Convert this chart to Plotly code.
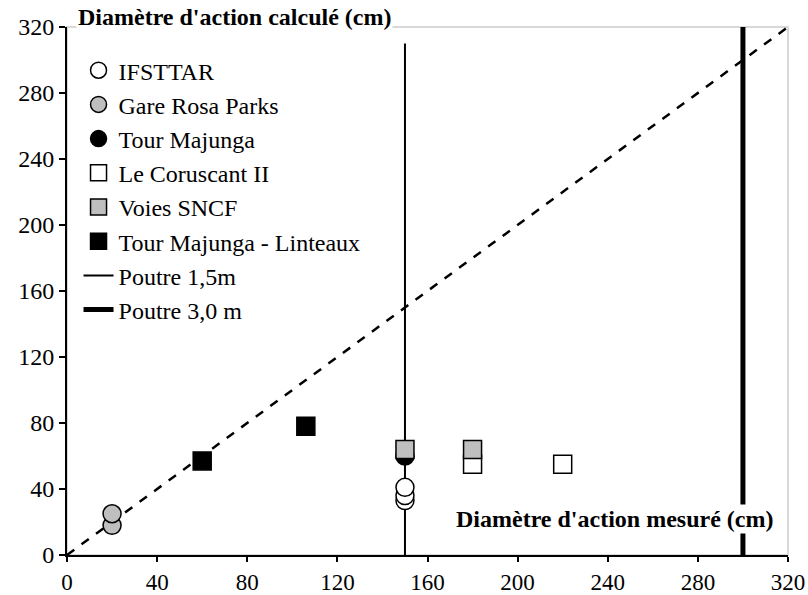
import plotly.graph_objects as go

# Data
ifsttar_x = [150, 150, 150]
ifsttar_y = [33, 36, 41]
rosa_x = [20, 20]
rosa_y = [18, 25]
majunga_x = [150]
majunga_y = [60]
coruscant_x = [180, 220]
coruscant_y = [55, 55]
sncf_x = [150, 180]
sncf_y = [64, 64]
linteaux_x = [60, 106]
linteaux_y = [57, 78]
poutre15_x = [150, 150]
poutre15_y = [0, 310]
poutre30_x = [300, 300]
poutre30_y = [0, 320]
identity_x = [0, 320]
identity_y = [0, 320]
ticks = [0, 40, 80, 120, 160, 200, 240, 280, 320]

FONT = "Liberation Serif, Times New Roman, serif"

fig = go.Figure()

# lines first (drawn under markers)
fig.add_trace(go.Scatter(x=identity_x, y=identity_y, mode="lines",
                         line=dict(color="black", width=2.5, dash="dash"),
                         showlegend=False, hoverinfo="skip"))
fig.add_trace(go.Scatter(x=poutre15_x, y=poutre15_y, mode="lines", name="Poutre 1,5m",
                         line=dict(color="black", width=2), legendrank=7))
fig.add_trace(go.Scatter(x=poutre30_x, y=poutre30_y, mode="lines", name="Poutre 3,0 m",
                         line=dict(color="black", width=5), legendrank=8))

def mk(x, y, name, symbol, fill, rank):
    fig.add_trace(go.Scatter(x=x, y=y, mode="markers", name=name,
                             marker=dict(symbol=symbol, size=18, color=fill,
                                         line=dict(color="black", width=1.5)),
                             legendrank=rank))

mk(ifsttar_x, ifsttar_y, "IFSTTAR", "circle", "white", 1)
mk(rosa_x, rosa_y, "Gare Rosa Parks", "circle", "#bfbfbf", 2)
mk(majunga_x, majunga_y, "Tour Majunga", "circle", "black", 3)
mk(coruscant_x, coruscant_y, "Le Coruscant II", "square", "white", 4)
mk(sncf_x, sncf_y, "Voies SNCF", "square", "#bfbfbf", 5)
mk(linteaux_x, linteaux_y, "Tour Majunga - Linteaux", "square", "black", 6)

def axis(fs, tl):
    return dict(range=[0, 320], tickvals=ticks, showgrid=False, zeroline=False,
                showline=True, linecolor="black", linewidth=2, automargin=False,
                ticks="outside", ticklen=tl, tickwidth=2, tickcolor="black",
                tickfont=dict(family=FONT, size=fs, color="black"))

fig.update_layout(
    width=808, height=595,
    margin=dict(l=67, r=20, t=27, b=40),
    paper_bgcolor="white", plot_bgcolor="white",
    xaxis=axis(23, 5), yaxis=axis(24, 6),
    font=dict(family=FONT, color="black"),
    legend=dict(x=0.016, y=0.96, xanchor="left", yanchor="top",
                bgcolor="rgba(0,0,0,0)", font=dict(family=FONT, size=24, color="black"),
                tracegroupgap=0),
    shapes=[dict(type="rect", xref="paper", yref="paper", x0=0, x1=1, y0=0, y1=1,
                 line=dict(color="#d9d9d9", width=2), layer="below")],
    annotations=[
        dict(text="<b>Diamètre d'action calculé (cm)</b>", xref="paper", yref="paper",
             x=0.232, y=1.019, xanchor="center", yanchor="middle", showarrow=False,
             bgcolor="white", font=dict(family=FONT, size=24, color="black")),
        dict(text="<b>Diamètre d'action mesuré (cm)</b>", xref="paper", yref="paper",
             x=0.76, y=0.068, xanchor="center", yanchor="middle", showarrow=False,
             bgcolor="white", font=dict(family=FONT, size=24, color="black")),
    ],
)

fig.write_html("out.html", config={"displayModeBar": False},
               post_script="document.body.style.margin='0';document.body.style.overflow='hidden';")
